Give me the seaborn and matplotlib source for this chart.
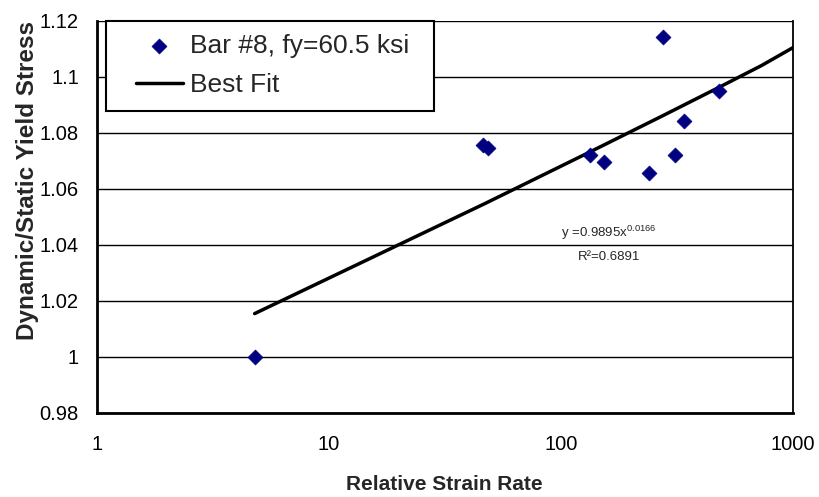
import matplotlib
matplotlib.use("Agg")
import matplotlib.pyplot as plt
import seaborn as sns
import numpy as np
import pandas as pd
from matplotlib.ticker import FixedLocator, FuncFormatter, NullLocator
from matplotlib.legend_handler import HandlerLine2D, HandlerPathCollection
from matplotlib.lines import Line2D
from matplotlib.collections import PathCollection

# ---- data ----
strain_rate = [4.78, 46.2, 48.5, 133, 153, 240, 275, 311, 338, 482]
yield_ratio = [1.0000, 1.0757, 1.0747, 1.0721, 1.0698, 1.0656, 1.1143, 1.0720, 1.0842, 1.0950]

fit_x = [4.78, 47, 133, 275, 482, 732, 1000]
fit_y = [1.0155, 1.0548, 1.0732, 1.0862, 1.0964, 1.1041, 1.1105]

y_ticks = [0.98, 1.00, 1.02, 1.04, 1.06, 1.08, 1.10, 1.12]
x_ticks = [1, 10, 100, 1000]

series_label = "Bar #8, fy=60.5 ksi"
fit_label = "Best Fit"
x_title = "Relative Strain Rate"
y_title = "Dynamic/Static Yield Stress"
eq_text = r"y =0.9895x$^{\mathregular{0.0166}}$"
r2_text = "R\u00b2=0.6891"

sns.set_style("white")
plt.rcParams["font.family"] = ["Liberation Sans", "DejaVu Sans"]

fig = plt.figure(figsize=(8.19, 4.97), dpi=100)
W, H = 819, 497
left, right, top, bottom = 97, 793, 21, 413
ax = fig.add_axes([left / W, 1 - bottom / H, (right - left) / W, (bottom - top) / H])

df_pts = pd.DataFrame({"x": strain_rate, "y": yield_ratio})
df_fit = pd.DataFrame({"x": fit_x, "y": fit_y})

sns.scatterplot(data=df_pts, x="x", y="y", ax=ax, marker="D", s=58,
                color="#000080", edgecolor="#000080", linewidth=0.5,
                label=series_label, zorder=4)
sns.lineplot(data=df_fit, x="x", y="y", ax=ax, color="black", linewidth=2.5,
             sort=False, estimator=None, label=fit_label, zorder=3)

ax.set_xscale("log")
ax.set_xlim(1, 1000)
ax.set_ylim(0.98, 1.12)
ax.xaxis.set_major_locator(FixedLocator(x_ticks))
ax.xaxis.set_minor_locator(NullLocator())
ax.xaxis.set_major_formatter(FuncFormatter(lambda v, p: f"{v:g}"))
ax.yaxis.set_major_locator(FixedLocator(y_ticks))
ax.yaxis.set_major_formatter(FuncFormatter(
    lambda v, p: (f"{v:.2f}".rstrip("0").rstrip("."))))

ax.grid(axis="y", color="black", linewidth=1.0)
ax.grid(axis="x", visible=False)
ax.set_axisbelow(True)

for s in ["left", "bottom"]:
    ax.spines[s].set_color("black")
    ax.spines[s].set_linewidth(2.0)
ax.spines["right"].set_color("black")
ax.spines["right"].set_linewidth(1.3)
ax.spines["top"].set_visible(False)

ax.tick_params(axis="both", which="major", direction="out", length=7,
               width=1.6, color="black", labelsize=14.5, labelcolor="black")
ax.tick_params(axis="x", pad=9)
ax.tick_params(axis="y", pad=6)
ax.set_xlabel("")
ax.set_ylabel("")

fig.text(444 / W, 1 - 485 / H, x_title, ha="center", va="center",
         fontsize=15, fontweight="bold")
fig.text(28 / W, 1 - 181 / H, y_title, ha="center", va="center",
         rotation=90, fontsize=17.5, fontweight="bold")

# equation annotation (axes-fraction position)
ax.text((609 - left) / (right - left), (bottom - 233) / (bottom - top), eq_text,
        transform=ax.transAxes, ha="center", va="center", fontsize=9.5)
ax.text((609 - left) / (right - left), (bottom - 257) / (bottom - top), r2_text,
        transform=ax.transAxes, ha="center", va="center", fontsize=9.5)

# legend
handles, labels = ax.get_legend_handles_labels()
fs = 19
x0 = (106 - left) / (right - left)
y1 = 1.0
w = (434 - 106) / (right - left)
h = (107 - 21) / (bottom - top)
leg = ax.legend(handles, labels, loc="upper left",
                bbox_to_anchor=(x0, y1 - h, w, h), mode="expand",
                fontsize=fs, frameon=True, fancybox=False, framealpha=1,
                edgecolor="black", borderpad=0.5, labelspacing=0.58,
                handlelength=2.4, handletextpad=0.28, borderaxespad=0,
                handler_map={Line2D: HandlerLine2D(xpad=0.62),
                             PathCollection: HandlerPathCollection(xpad=0.62)})
leg.get_frame().set_linewidth(1.5)
leg.set_zorder(10)

fig.savefig("out.png", dpi=100, facecolor="white")
